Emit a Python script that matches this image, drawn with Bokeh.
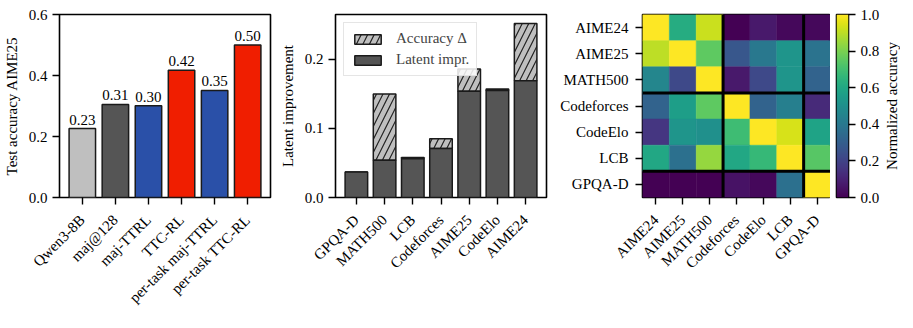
from math import pi
import numpy as np
from bokeh.plotting import figure
from bokeh.layouts import row
from bokeh.models import (ColumnDataSource, FixedTicker, Range1d, Span, Legend, LegendItem,
                          LinearColorMapper, PrintfTickFormatter)
from bokeh.palettes import Viridis256
from bokeh.transform import transform
from bokeh.core.properties import value
from bokeh.embed import file_html
from bokeh.resources import INLINE

FONT = "Liberation Serif"
FS = "15px"

# ---- panel 1: test accuracy on AIME25
methods = ["Qwen3-8B", "maj@128", "maj-TTRL", "TTC-RL", "per-task maj-TTRL", "per-task TTC-RL"]
acc = [0.226, 0.305, 0.301, 0.417, 0.351, 0.500]
acc_labels = ["0.23", "0.31", "0.30", "0.42", "0.35", "0.50"]
method_colors = ["#bfbfbf", "#555555", "#2a50a8", "#f01e00", "#2a50a8", "#f01e00"]

# ---- panel 2: latent improvement
tasks = ["GPQA-D", "MATH500", "LCB", "Codeforces", "AIME25", "CodeElo", "AIME24"]
latent = [0.037, 0.054, 0.056, 0.071, 0.154, 0.155, 0.169]
total = [0.037, 0.150, 0.058, 0.085, 0.186, 0.157, 0.252]

# ---- panel 3: normalized accuracy heatmap
bench = ["AIME24", "AIME25", "MATH500", "Codeforces", "CodeElo", "LCB", "GPQA-D"]
norm_acc = [
    [1.00, 0.62, 0.92, 0.00, 0.07, 0.02, 0.02],
    [0.90, 1.00, 0.75, 0.27, 0.40, 0.52, 0.38],
    [0.46, 0.22, 1.00, 0.07, 0.22, 0.52, 0.32],
    [0.32, 0.56, 0.75, 1.00, 0.32, 0.43, 0.12],
    [0.16, 0.52, 0.50, 0.69, 1.00, 0.94, 0.58],
    [0.60, 0.37, 0.84, 0.60, 0.67, 1.00, 0.74],
    [0.00, 0.00, 0.00, 0.05, 0.02, 0.37, 1.00],
]
group_bounds = [3, 6]
cbar_ticks = [0.0, 0.2, 0.4, 0.6, 0.8, 1.0]
cbar_label = "Normalized accuracy"


def style(p):
    p.outline_line_color = "black"
    p.outline_line_width = 1.6
    p.outline_line_alpha = 1.0
    p.xgrid.visible = False
    p.ygrid.visible = False
    p.background_fill_color = "white"
    p.border_fill_color = "white"
    for ax in p.axis:
        ax.axis_line_color = None
        ax.major_tick_line_color = "black"
        ax.major_tick_line_width = 1.4
        ax.major_tick_out = 7
        ax.major_tick_in = 0
        ax.minor_tick_line_color = None
        ax.major_label_text_font = FONT
        ax.major_label_text_font_size = FS
        ax.major_label_text_color = "black"
        ax.major_label_standoff = 5
        ax.axis_label_text_font = FONT
        ax.axis_label_text_font_size = FS
        ax.axis_label_text_font_style = "normal"
        ax.axis_label_text_color = "black"
        ax.axis_label_standoff = 6
    p.xaxis.major_label_standoff = 13


TOP = 14
FRAME_H = 183
BOTTOM = 118
H = TOP + FRAME_H + BOTTOM
common = dict(height=H, min_border_top=TOP, min_border_bottom=BOTTOM,
              output_backend="svg", toolbar_location=None)

# ---------------- panel 1
idx1 = list(range(len(methods)))
src1 = ColumnDataSource(dict(x=idx1, acc=acc, color=method_colors, label=acc_labels))
p1 = figure(width=276, x_range=Range1d(-0.69, 5.69), y_range=Range1d(0, 0.6),
            min_border_left=55, min_border_right=6, **common)
p1.vbar(x="x", top="acc", width=0.8, fill_color="color", line_color="#1a1a1a",
        line_width=1.5, source=src1)
p1.text(x="x", y="acc", text="label", text_align="center", text_baseline="bottom",
        y_offset=-4, text_font=value(FONT), text_font_size=FS, text_color="black",
        source=src1)
style(p1)
p1.xaxis.ticker = FixedTicker(ticks=idx1)
p1.xaxis.major_label_overrides = {i: m for i, m in enumerate(methods)}
p1.xaxis.major_label_orientation = pi / 4
p1.yaxis.ticker = FixedTicker(ticks=[0.0, 0.2, 0.4, 0.6])
p1.yaxis.formatter = PrintfTickFormatter(format="%.1f")
p1.yaxis.axis_label = "Test accuracy AIME25"

# ---------------- panel 2
idx2 = list(range(len(tasks)))
src2 = ColumnDataSource(dict(x=idx2, latent=latent, total=total))
p2 = figure(width=274, x_range=Range1d(-0.74, 6.74), y_range=Range1d(0, 0.265),
            min_border_left=54, min_border_right=4, **common)
r_delta = p2.vbar(x="x", bottom="latent", top="total", width=0.8, fill_color="#bfbfbf",
                  hatch_pattern="/", hatch_color="#222222", hatch_scale=13, hatch_weight=1.2,
                  line_color="#1a1a1a", line_width=1.5, source=src2)
r_lat = p2.vbar(x="x", top="latent", width=0.8, fill_color="#555555",
                line_color="#1a1a1a", line_width=1.5, source=src2)
style(p2)
p2.xaxis.ticker = FixedTicker(ticks=idx2)
p2.xaxis.major_label_overrides = {i: t for i, t in enumerate(tasks)}
p2.xaxis.major_label_orientation = pi / 4
p2.yaxis.ticker = FixedTicker(ticks=[0.0, 0.1, 0.2])
p2.yaxis.formatter = PrintfTickFormatter(format="%.1f")
p2.yaxis.axis_label = "Latent improvement"
legend = Legend(items=[LegendItem(label="Accuracy Δ", renderers=[r_delta]),
                       LegendItem(label="Latent impr.", renderers=[r_lat])],
                location="top_left", margin=8, padding=7, spacing=4,
                glyph_width=33, glyph_height=12, label_standoff=12,
                label_text_font=FONT, label_text_font_size=FS,
                border_line_color="#cccccc", border_line_width=1,
                background_fill_alpha=0.85)
p2.add_layout(legend)

# ---------------- panel 3 (heatmap)
xs, ys, vs = [], [], []
for i, rowvals in enumerate(norm_acc):
    for j, v in enumerate(rowvals):
        xs.append(j + 0.5)
        ys.append(i + 0.5)
        vs.append(v)
src3 = ColumnDataSource(dict(x=xs, y=ys, v=vs))
mapper = LinearColorMapper(palette=Viridis256, low=0, high=1)
p3 = figure(width=92 + 188, x_range=Range1d(0, 7), y_range=Range1d(7, 0),
            min_border_left=92, min_border_right=0, **common)
p3.rect(x="x", y="y", width=1, height=1, fill_color=transform("v", mapper),
        line_color=transform("v", mapper), line_width=0.5, source=src3)
for b in group_bounds:
    p3.add_layout(Span(location=b, dimension="height", line_color="black", line_width=3))
    p3.add_layout(Span(location=b, dimension="width", line_color="black", line_width=3))
style(p3)
ticks3 = [k + 0.5 for k in range(len(bench))]
p3.xaxis.ticker = FixedTicker(ticks=ticks3)
p3.xaxis.major_label_overrides = {k + 0.5: b for k, b in enumerate(bench)}
p3.xaxis.major_label_orientation = pi / 4
p3.yaxis.ticker = FixedTicker(ticks=ticks3)
p3.yaxis.major_label_overrides = {k + 0.5: b for k, b in enumerate(bench)}
p3.yaxis.major_label_standoff = 7

# ---------------- colour bar (own narrow canvas, same colour mapper)
p4 = figure(width=6 + 14 + 32, x_range=Range1d(0, 1), y_range=Range1d(0, 1),
            min_border_left=6, min_border_right=32,
            x_axis_location=None, y_axis_location="right", **common)
p4.image(image=[np.linspace(0, 1, 256).reshape(256, 1)], x=0, y=0, dw=1, dh=1,
         color_mapper=mapper)
style(p4)
p4.yaxis.ticker = FixedTicker(ticks=cbar_ticks)
p4.yaxis.formatter = PrintfTickFormatter(format="%.1f")

# ---------------- colour-bar label
p5 = figure(width=18, x_range=Range1d(0, 1), y_range=Range1d(0, 1),
            min_border_left=0, min_border_right=0,
            x_axis_location=None, y_axis_location=None, **common)
p5.outline_line_color = None
p5.xgrid.visible = False
p5.ygrid.visible = False
p5.text(x=[0.5], y=[0.5], text=[cbar_label], angle=pi / 2, text_align="center",
        text_baseline="middle", text_font=value(FONT), text_font_size=FS,
        text_color="black")

layout = row(p1, p2, p3, p4, p5)
open("out.html", "w").write(file_html(layout, INLINE))
